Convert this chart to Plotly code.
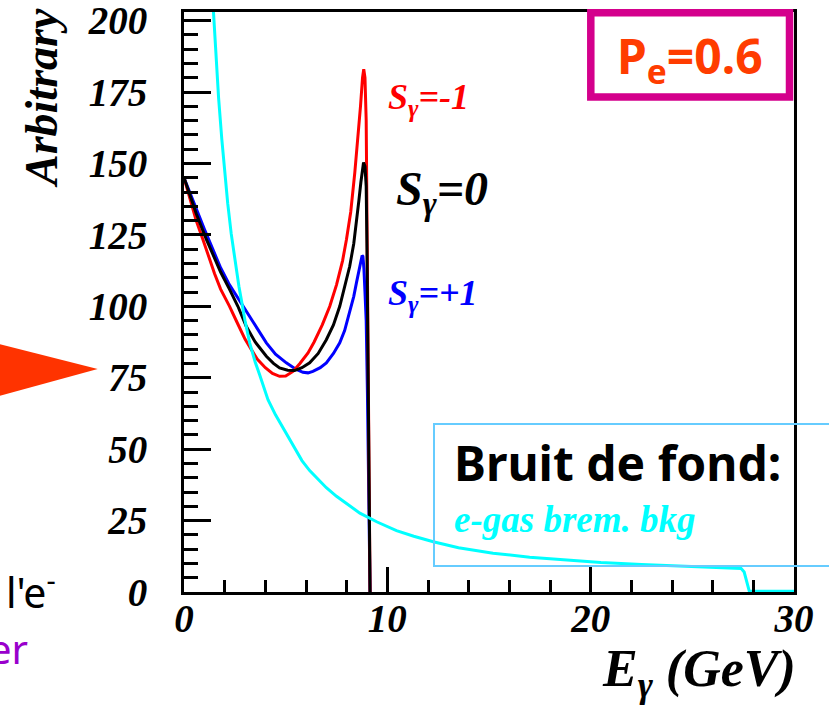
import plotly.graph_objects as go

# ---------------- data ----------------
red_E = [0, 0.3, 0.6, 0.93, 1.2, 1.5, 1.8, 2.24, 2.6, 3.0, 3.3, 3.6, 4.0, 4.35, 4.7, 5.0, 5.36, 5.7,
         6.1, 6.4, 6.8, 7.17, 7.5, 7.8, 7.99, 8.2, 8.4, 8.55, 8.68, 8.78, 8.84, 8.9, 8.96, 9.0, 9.08, 9.15]
red_v = [145, 137, 130, 123.4, 117.5, 111.5, 106, 100, 94.5, 88.5, 85, 81.5, 78.5, 76.5, 75.5, 75.6, 77.2, 80,
         83.7, 87.5, 93.5, 100, 107.5, 116, 123.4, 133, 146.8, 158, 170, 180, 183, 180, 165, 130, 60, 0]

black_E = [0, 0.3, 0.6, 1.1, 1.4, 1.8, 2.24, 2.65, 3.06, 3.5, 4.05, 4.4, 4.7, 5.1, 5.44, 5.8, 6.18, 6.6,
           7.0, 7.35, 7.66, 7.9, 8.15, 8.35, 8.48, 8.6, 8.7, 8.78, 8.83, 8.9, 8.96, 9.0, 9.08, 9.15]
black_v = [145, 138.5, 132.5, 123.4, 118.5, 112, 105.9, 100, 93, 87.5, 82.5, 80, 78.4, 77.6, 77.5, 78.5, 80.2, 83.5,
           88.3, 93.5, 100, 106.5, 114, 122, 129, 137, 143.5, 148.5, 150.3, 149, 142, 120, 50, 0]

blue_E = [0, 0.3, 0.7, 1.0, 1.42, 1.8, 2.2, 2.55, 2.93, 3.5, 4.05, 4.5, 5.03, 5.5, 5.85, 6.1, 6.34, 6.7,
          7.0, 7.35, 7.66, 7.9, 8.15, 8.35, 8.48, 8.6, 8.7, 8.76, 8.8, 8.85, 8.9, 8.96, 9.02, 9.1, 9.15]
blue_v = [145, 139.5, 132.5, 127, 119.9, 113.5, 108, 104, 100, 93, 87.2, 83.2, 80.2, 78, 76.9, 76.7, 77.2, 78.5,
          80.2, 83.5, 87.2, 91.5, 97.7, 103.5, 108.2, 112.5, 116.5, 117.8, 117.5, 113, 105, 95, 70, 30, 0]

cyan_E = [1.4, 1.45, 1.55, 1.7, 1.86, 2.0, 2.15, 2.32, 2.5, 2.7, 2.82, 3.0, 3.23, 3.5, 3.72, 4.13, 4.5, 4.9,
          5.3, 5.8, 6.18, 6.6, 7.0, 7.5, 8.0, 8.65, 9.5, 10.45, 11.3, 12.26, 13.5, 15.2, 17.0, 18.8, 20.5,
          22.5, 24.5, 26.5, 27.4, 27.55, 27.7, 27.8, 30]
cyan_v = [215, 203, 191, 173, 158.4, 147, 136, 125.5, 116, 107, 102.3, 95, 87.2, 80.5, 76, 67.3, 62, 57,
          52, 46, 42.5, 39.5, 36.5, 33.5, 31, 27.6, 24.5, 21.5, 19.5, 17.6, 15.5, 13.6, 12.2, 11.2, 10.3,
          9.6, 9.0, 8.5, 8.2, 7.0, 3.5, 0.3, 0.3]

y_ticks = [0, 25, 50, 75, 100, 125, 150, 175, 200]
x_ticks = [0, 10, 20, 30]

# ---------------- layout helpers ----------------
W, H = 829, 707
L, R, T, B = 184, 794, 12, 592


def px(x):
    return (x - L) / (R - L)


def py(y):
    return (B - y) / (B - T)


SERIF = "Liberation Serif"
SANS = "Noto Sans"

fig = go.Figure()
fig.add_trace(go.Scatter(x=blue_E, y=blue_v, mode="lines", line=dict(color="#0000ff", width=3), showlegend=False))
fig.add_trace(go.Scatter(x=red_E, y=red_v, mode="lines", line=dict(color="#ff0000", width=3), showlegend=False))
fig.add_trace(go.Scatter(x=black_E, y=black_v, mode="lines", line=dict(color="#000000", width=3), showlegend=False))
fig.add_trace(go.Scatter(x=cyan_E, y=cyan_v, mode="lines", line=dict(color="#00ffff", width=3), showlegend=False))

tickfont = dict(family=SERIF, size=39, color="black", weight="bold", style="italic")

fig.update_xaxes(
    range=[0, 30], tickvals=x_ticks, ticktext=[str(v) for v in x_ticks],
    ticks="inside", ticklen=25, tickwidth=3, tickcolor="black",
    minor=dict(dtick=2, ticks="inside", ticklen=12, tickwidth=3, tickcolor="black"),
    showline=True, linewidth=3, linecolor="black", mirror=True, automargin=False,
    showgrid=False, zeroline=False, tickfont=tickfont, ticklabelstandoff=-10,
    ticklabeloverflow="allow",
)
fig.update_yaxes(
    range=[0, 203], tickvals=y_ticks, ticktext=[str(v) for v in y_ticks],
    ticks="inside", ticklen=27, tickwidth=3, tickcolor="black",
    minor=dict(dtick=5, ticks="inside", ticklen=14, tickwidth=3, tickcolor="black"),
    showline=True, linewidth=3, linecolor="black", mirror=True, automargin=False,
    showgrid=False, zeroline=False, tickfont=tickfont, ticklabelstandoff=26,
    ticklabeloverflow="allow",
)

ann = []
# axis titles
ann.append(dict(x=px(42), y=py(98), xref="paper", yref="paper", text="Arbitrary", textangle=-90,
                showarrow=False, xanchor="center", yanchor="middle",
                font=dict(family=SERIF, size=46, color="black", weight="bold", style="italic")))
ann.append(dict(x=px(798), y=py(707), xref="paper", yref="paper", text="E<sub>γ</sub> (GeV)",
                showarrow=False, xanchor="right", yanchor="bottom",
                font=dict(family=SERIF, size=52, color="black", weight="bold", style="italic")))
# curve labels
ann.append(dict(x=px(386), y=py(100), xref="paper", yref="paper", text="S<sub>γ</sub>=-1",
                showarrow=False, xanchor="left", yanchor="middle",
                font=dict(family=SERIF, size=36, color="#ff0000", weight="bold", style="italic")))
ann.append(dict(x=px(394), y=py(192), xref="paper", yref="paper", text="S<sub>γ</sub>=0",
                showarrow=False, xanchor="left", yanchor="middle",
                font=dict(family=SERIF, size=48, color="black", weight="bold", style="italic")))
ann.append(dict(x=px(386), y=py(295), xref="paper", yref="paper", text="S<sub>γ</sub>=+1",
                showarrow=False, xanchor="left", yanchor="middle",
                font=dict(family=SERIF, size=36, color="#0000ff", weight="bold", style="italic")))
# P_e box text
ann.append(dict(x=px(690), y=py(58), xref="paper", yref="paper", text="P<sub>e</sub>=0.6",
                showarrow=False, xanchor="center", yanchor="middle",
                font=dict(family=SANS, size=48, color="#ff3c00", weight="bold")))
# background box text
ann.append(dict(x=px(452), y=py(462), xref="paper", yref="paper", text="Bruit de fond:",
                showarrow=False, xanchor="left", yanchor="middle",
                font=dict(family=SANS, size=48, color="black", weight="bold")))
ann.append(dict(x=px(452), y=py(519), xref="paper", yref="paper", text="e-gas brem. bkg",
                showarrow=False, xanchor="left", yanchor="middle",
                font=dict(family=SERIF, size=37, color="#00ffff", weight="bold", style="italic")))
# cropped slide text at left
ann.append(dict(x=px(58), y=py(590), xref="paper", yref="paper", text="l'e<sup>-</sup>",
                showarrow=False, xanchor="right", yanchor="middle",
                font=dict(family=SANS, size=41, color="black")))
ann.append(dict(x=px(30), y=py(648), xref="paper", yref="paper", text="er",
                showarrow=False, xanchor="right", yanchor="middle",
                font=dict(family=SANS, size=40, color="#9900cc")))

shapes = [
    dict(type="rect", xref="paper", yref="paper", x0=px(590.8), x1=px(789.5), y0=py(97), y1=py(12.8),
         line=dict(color="#d4008c", width=7.5), fillcolor="white", layer="above"),
    dict(type="rect", xref="paper", yref="paper", x0=px(434), x1=px(845), y0=py(566), y1=py(424),
         line=dict(color="#66ccff", width=2), fillcolor="rgba(0,0,0,0)", layer="above"),
    dict(type="path", xref="paper", yref="paper",
         path=f"M {px(-5)},{py(343)} L {px(97.7)},{py(369)} L {px(-5)},{py(397)} Z",
         fillcolor="#ff3300", line=dict(width=0), layer="above"),
]

fig.update_layout(
    width=W, height=H,
    margin=dict(l=L, r=W - R, t=T, b=H - B, autoexpand=False),
    plot_bgcolor="white", paper_bgcolor="white",
    annotations=ann, shapes=shapes, showlegend=False,
)

fig.write_html("out.html", config={"displayModeBar": False},
               post_script="document.body.style.margin='0';")
